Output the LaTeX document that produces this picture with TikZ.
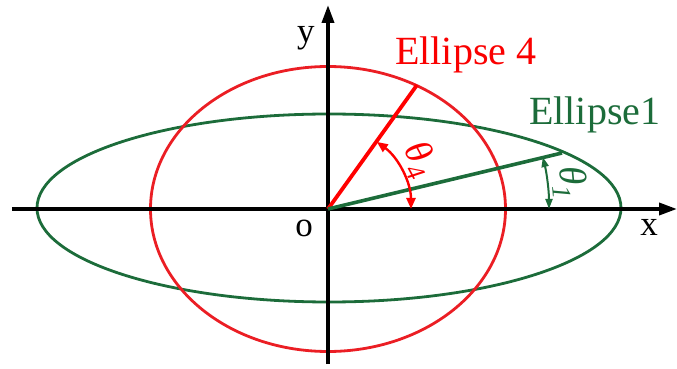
\documentclass[tikz,border=0pt]{standalone}
\usepackage{fontspec}
\setmainfont{Liberation Serif}
\usetikzlibrary{arrows.meta}
\definecolor{myred}{RGB}{235,30,36}
\definecolor{textred}{RGB}{250,0,0}
\definecolor{mygreen}{RGB}{28,108,58}
\tikzset{
  axis/.style={line width=3.6pt, black, -{Triangle[length=18pt,width=12pt]}},
  redcurve/.style={line width=2.8pt, myred},
  greencurve/.style={line width=2.8pt, mygreen},
  redray/.style={line width=3.8pt, red},
  greenray/.style={line width=3.6pt, mygreen},
  lbl/.style={inner sep=0pt, font=\fontsize{40}{42}\selectfont},
  axlbl/.style={inner sep=0pt, font=\fontsize{35}{38}\selectfont},
  anglbl/.style={inner sep=0pt, font=\fontsize{38}{40}\selectfont\itshape},
}
\begin{document}
\begin{tikzpicture}[x=1pt,y=1pt]
\useasboundingbox (-328,-160) rectangle (349,209);
\coordinate (O) at (0,0);
\coordinate (xs) at (-316,0);
\coordinate (xe) at (349,0);
\coordinate (ys) at (0,-155);
\coordinate (ye) at (0,204);
% ellipses
\draw[greencurve] (1,1) ellipse [x radius=292pt, y radius=94pt];
\draw[redcurve] (0,0) ellipse [x radius=177.5pt, y radius=142.5pt];
% axes
\draw[axis] (xs) -- (xe);
\draw[axis] (ys) -- (ye);
% rays
\coordinate (P4) at (89,124);
\coordinate (P1) at (234,56);
\draw[redray] (O) -- (P4);
\draw[greenray] (O) -- (P1);
% angle arcs
\coordinate (A4s) at (83,0);
\draw[line width=2.4pt, red, {Triangle[length=11pt,width=9pt]}-{Triangle[length=11pt,width=9pt]}] (A4s) arc[start angle=0, end angle=54, radius=83pt];
\coordinate (A1s) at (221,0);
\draw[line width=2pt, mygreen, {Triangle[length=10pt,width=7pt]}-{Triangle[length=10pt,width=7pt]}] (A1s) arc[start angle=0, end angle=13.6, radius=221pt];
% labels
\node[lbl, text=textred, anchor=base west] (e4) at (67,144) {Ellipse 4};
\node[lbl, text=mygreen, anchor=base west] (e1) at (201,84) {Ellipse1};
\node[axlbl, anchor=base] (ylab) at (-22,166) {y};
\node[axlbl, anchor=base] (olab) at (-24,-28) {o};
\node[axlbl, anchor=base] (xlab) at (321,-27) {x};
\node[anglbl, text=textred, rotate=-62] (t4) at (91,49) {θ\textsubscript{4}};
\node[anglbl, text=mygreen, rotate=-85] (t1) at (242,26) {θ\textsubscript{1}};
\end{tikzpicture}
\end{document}
